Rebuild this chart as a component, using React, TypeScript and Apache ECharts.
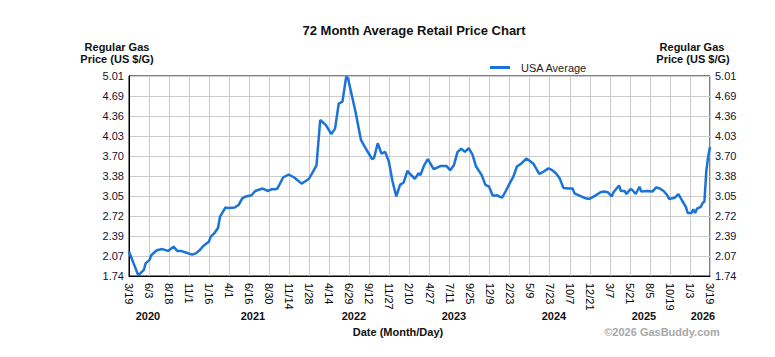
import React, { useEffect, useRef } from "react";
import * as echarts from "echarts";

const tickLabels = ["3/19","6/3","8/18","11/1","1/16","4/1","6/16","8/30","11/14","1/28","4/14","6/29","9/12","11/27","2/10","4/27","7/11","9/25","12/9","2/23","5/9","7/23","10/7","12/21","3/7","5/21","8/5","10/19","1/3","3/19"];
const yLabels = ["1.74","2.07","2.39","2.72","3.05","3.38","3.70","4.03","4.36","4.69","5.01"];
const years = ["2020","2021","2022","2023","2024","2025","2026"];
const yearX = [148, 253, 354, 454, 554, 644, 703];

const totalWeeks = 313;
const weeks = [
  0,5,8,9,11,12,15,18,21,24,
  26,28,31,34,36,38,40,43,44,46,
  48,49,52,54,57,59,61,63,66,68,
  70,72,75,77,79,80,83,86,89,93,
  95,97,99,101,103,106,109,111,113,115,
  117,118,120,122,125,128,131,132,134,136,
  138,140,142,144,146,148,150,151,154,156,
  157,159,161,164,166,168,171,173,175,177,
  179,181,183,185,187,190,192,194,196,198,
  201,203,205,207,209,211,214,216,218,221,
  223,226,228,230,232,234,237,239,240,243,
  246,248,251,254,256,258,260,261,264,265,
  267,268,270,271,273,275,276,279,282,284,
  286,288,290,291,294,296,298,300,301,303,
  304,305,306,308,309,310,311,312,313
];
const prices = [
  2.14,1.75,1.84,1.95,2.00,2.08,2.16,2.18,2.15,2.22,
  2.15,2.15,2.12,2.09,2.11,2.16,2.23,2.30,2.38,2.44,
  2.53,2.71,2.86,2.85,2.86,2.90,3.01,3.04,3.06,3.13,
  3.15,3.17,3.13,3.16,3.16,3.17,3.35,3.40,3.35,3.25,
  3.29,3.33,3.44,3.55,4.29,4.21,4.06,4.15,4.56,4.59,
  5.00,4.97,4.70,4.43,3.96,3.80,3.65,3.67,3.91,3.74,
  3.77,3.61,3.28,3.04,3.23,3.27,3.46,3.42,3.33,3.42,
  3.39,3.55,3.65,3.49,3.51,3.54,3.54,3.47,3.55,3.77,
  3.82,3.77,3.83,3.73,3.53,3.39,3.23,3.20,3.05,3.06,
  3.02,3.13,3.25,3.36,3.53,3.57,3.66,3.62,3.57,3.41,
  3.44,3.50,3.47,3.42,3.34,3.18,3.17,3.17,3.09,3.05,
  3.01,3.00,3.05,3.11,3.12,3.11,3.04,3.11,3.22,3.13,
  3.13,3.08,3.16,3.15,3.08,3.20,3.12,3.13,3.12,3.19,
  3.17,3.13,3.06,3.00,3.02,3.08,2.97,2.87,2.77,2.77,
  2.83,2.77,2.84,2.87,2.93,2.96,3.45,3.69,3.85
];

const FONT = "'Liberation Sans', Arial, sans-serif";
const LABEL_COLOR = "#111133";

export default function App() {
  const ref = useRef<HTMLDivElement>(null);
  useEffect(() => {
    document.body.style.margin = "0";
    const chart = echarts.init(ref.current!, null, { renderer: "svg" });
    const yLabelCfg = {
      fontSize: 11,
      fontFamily: FONT,
      color: LABEL_COLOR,
      margin: 5,
      formatter: (v: number) => yLabels[Math.round(v)] ?? "",
    };
    const txt = (text: string, x: number, y: number, size: number, fill = "#111") => ({
      type: "text",
      style: { text, x, y, fontSize: size, fontWeight: "bold", fontFamily: FONT, fill, align: "center", verticalAlign: "middle" },
    });
    const graphicTexts: any[] = [
      txt("72 Month Average Retail Price Chart", 414, 30, 13),
      txt("Regular Gas", 117, 47, 11),
      txt("Price (US $/G)", 117, 59, 11),
      txt("Regular Gas", 692, 47, 11),
      txt("Price (US $/G)", 693, 59, 11),
      txt("Date (Month/Day)", 398, 332, 11),
      txt("\u00a92026 GasBuddy.com", 662, 332, 11, "#a8a8a8"),
    ];
    years.forEach((yr, i) => graphicTexts.push(txt(yr, yearX[i], 316, 11)));

    chart.setOption({
      animation: false,
      backgroundColor: "#fff",
      grid: { left: 129, top: 76, width: 581, height: 200, show: true, borderColor: "#000", borderWidth: 1, backgroundColor: "transparent" },
      legend: {
        left: 490,
        top: 62,
        padding: 0,
        icon: "rect",
        itemWidth: 20,
        itemHeight: 3,
        textStyle: { fontSize: 11, fontFamily: FONT, color: "#222", padding: [0, 0, 0, 6] },
        data: ["USA Average"],
      },
      xAxis: [
        {
          type: "value",
          min: 0,
          max: tickLabels.length - 1,
          interval: 1,
          position: "bottom",
          axisLine: { show: true, lineStyle: { color: "#000", width: 1 } },
          axisTick: { show: false },
          splitLine: { show: true, lineStyle: { color: "#cccccc", width: 1 } },
          axisLabel: {
            rotate: -90,
            fontSize: 11,
            fontFamily: FONT,
            color: "#000",
            margin: 7,
            formatter: (v: number) => tickLabels[Math.round(v)] ?? "",
          },
        },
        { type: "value", min: 0, max: totalWeeks, show: false },
      ],
      yAxis: [
        {
          type: "value",
          min: 0,
          max: yLabels.length - 1,
          interval: 1,
          position: "left",
          axisLine: { show: true, lineStyle: { color: "#000", width: 1 } },
          axisTick: { show: false },
          splitLine: { show: true, lineStyle: { color: "#cccccc", width: 1 } },
          axisLabel: yLabelCfg,
        },
        {
          type: "value",
          min: 0,
          max: yLabels.length - 1,
          interval: 1,
          position: "right",
          axisLine: { show: true, lineStyle: { color: "#000", width: 1 } },
          axisTick: { show: false },
          splitLine: { show: false },
          axisLabel: yLabelCfg,
        },
        { type: "value", min: 1.74, max: 5.01, show: false },
      ],
      graphic: graphicTexts,
      series: [
        {
          name: "USA Average",
          type: "line",
          xAxisIndex: 1,
          yAxisIndex: 2,
          symbol: "none",
          smooth: false,
          lineStyle: { color: "#1a73d9", width: 2.5 },
          itemStyle: { color: "#1a73d9" },
          data: weeks.map((w, i) => [w, prices[i]]),
        },
      ],
    });
    return () => chart.dispose();
  }, []);
  return <div ref={ref} style={{ width: 775, height: 357 }} />;
}
